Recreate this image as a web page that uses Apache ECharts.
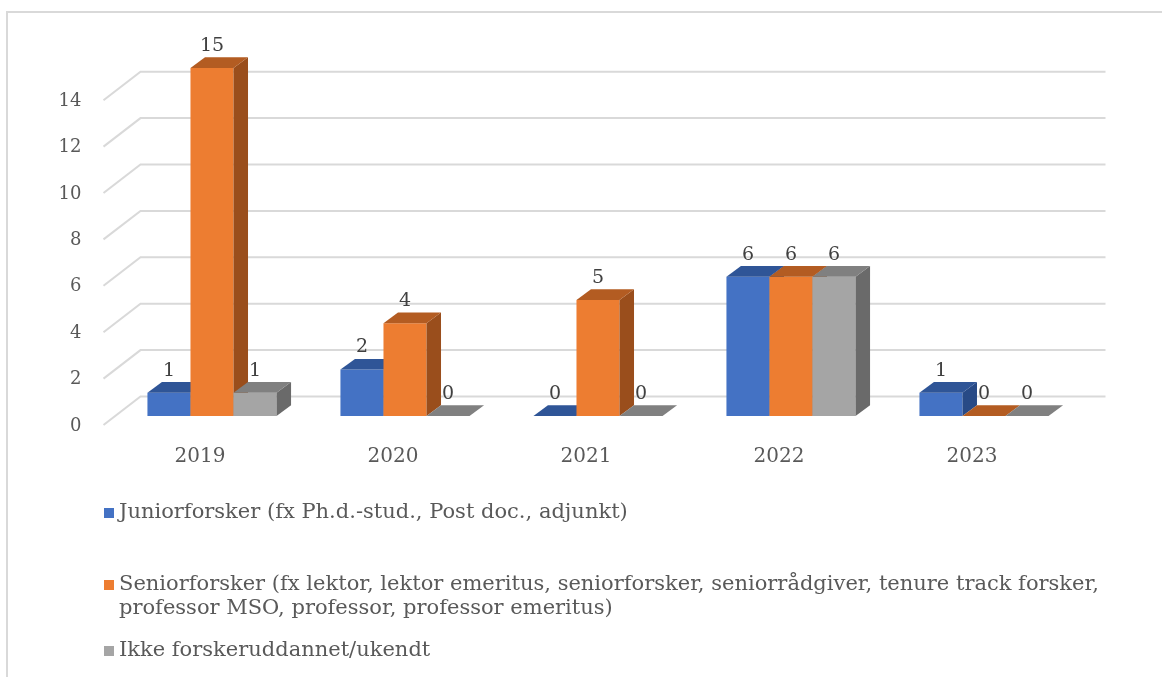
<!DOCTYPE html>
<html>
<head>
<meta charset="utf-8">
<script src="https://cdn.jsdelivr.net/npm/echarts@6/dist/echarts.min.js"></script>
<style>
  html, body { margin: 0; padding: 0; background: #fff; }
  #chart { width: 1162px; height: 677px; }
</style>
</head>
<body>
<div id="chart"></div>
<script>
const years = ['2019', '2020', '2021', '2022', '2023'];
const names = [
  'Juniorforsker (fx Ph.d.-stud., Post doc., adjunkt)',
  'Seniorforsker (fx lektor, lektor emeritus, seniorforsker, seniorrådgiver, tenure track forsker, professor MSO, professor, professor emeritus)',
  'Ikke forskeruddannet/ukendt'
];
const junior = [1, 2, 0, 6, 1];
const senior = [15, 4, 5, 6, 0];
const ukendt = [1, 0, 0, 6, 0];
const yTicks = [0, 2, 4, 6, 8, 10, 12, 14];

const colors = ['#4472C4', '#ED7D31', '#A5A5A5'];
const topColors = ['#2F5597', '#B35C22', '#808080'];
const sideColors = ['#284A86', '#9A4E1C', '#6A6A6A'];

const PX = 23.2;          // px per unit
const FLOOR = [37, -28.5]; // floor depth (front -> back wall)
const BAR = [14.5, -10.7]; // bar depth

const numFont = 'DejaVu Serif';
const chart = echarts.init(document.getElementById('chart'));

function barRender(k) {
  return function (params, api) {
    const cat = api.value(0), val = api.value(1);
    const top = api.coord([cat, val]);
    const base = api.coord([cat, 0]);
    const band = api.size([1, 0])[0];
    const w = band * 0.223;
    const x0 = top[0] + (k - 1.5) * w, x1 = x0 + w;
    const yt = top[1], yb = base[1];
    const [dx, dy] = BAR;
    return {
      type: 'group',
      children: [
        { type: 'rect', shape: { x: x0, y: yt, width: w, height: yb - yt },
          style: { fill: colors[k] } },
        { type: 'polygon', shape: { points: [[x1, yt], [x1 + dx, yt + dy], [x1 + dx, yb + dy], [x1, yb]] },
          style: { fill: sideColors[k] } },
        { type: 'polygon', shape: { points: [[x0, yt], [x1, yt], [x1 + dx, yt + dy], [x0 + dx, yt + dy]] },
          style: { fill: topColors[k] } },
        { type: 'text', x: x0 + w / 2, y: yt + dy - 2,
          style: { text: String(val), fill: '#404040', font: '19px ' + numFont,
                   align: 'center', verticalAlign: 'bottom' } }
      ]
    };
  };
}

function barSeries(k, data) {
  return {
    type: 'custom',
    name: names[k],
    xAxisIndex: 0, yAxisIndex: 0,
    clip: false,
    itemStyle: { color: colors[k] },
    data: data.map((v, i) => [i, v]),
    renderItem: barRender(k)
  };
}

// the long name wraps after "forsker,"; a blank first line keeps the icon on the first text line
function wrapName(n) {
  if (n.indexOf('forsker, professor MSO') < 0) return n;
  return '\n' + n.replace('forsker, professor MSO', 'forsker,\nprofessor MSO');
}

const option = {
  animation: false,
  backgroundColor: '#fff',
  graphic: [{
    type: 'rect', shape: { x: 7, y: 12, width: 1200, height: 720 },
    style: { fill: null, stroke: '#D9D9D9', lineWidth: 2 }, silent: true
  }],
  grid: [
    { left: 115.5, width: 965, top: 416 - 15 * PX, height: 15 * PX },
    { left: 103.5, width: 965, top: 426 - 15 * PX, height: 15 * PX }
  ],
  xAxis: [
    { gridIndex: 0, type: 'category', data: years, show: false },
    { gridIndex: 1, type: 'category', data: years,
      axisLine: { show: false }, axisTick: { show: false },
      axisLabel: { margin: 21, color: '#595959', fontFamily: numFont, fontSize: 20 } }
  ],
  yAxis: [
    { gridIndex: 0, type: 'value', min: 0, max: 15, show: false },
    { gridIndex: 1, type: 'value', min: 0, max: 15, interval: 2,
      axisLine: { show: false }, axisTick: { show: false }, splitLine: { show: false },
      axisLabel: { margin: 22, color: '#595959', fontFamily: numFont, fontSize: 18,
                   customValues: yTicks } }
  ],
  legend: [0, 1, 2].map(k => ({
    data: [{ name: names[k], itemStyle: { color: colors[k] } }],
    left: 99,
    top: [496, 544, 634][k],
    orient: 'vertical',
    icon: 'rect',
    itemWidth: 10, itemHeight: 10,
    selectedMode: false,
    formatter: wrapName,
    textStyle: { fontFamily: 'DejaVu Serif', fontSize: 21, color: '#595959', lineHeight: 24 }
  })),
  series: [
    {
      type: 'custom',
      xAxisIndex: 1, yAxisIndex: 1,
      silent: true, clip: false, z: 0,
      data: yTicks.map(v => [0, v]),
      renderItem: function (params, api) {
        const cs = params.coordSys;
        const y = api.coord([0, api.value(1)])[1] - 1;
        const xf = cs.x, xb = cs.x + FLOOR[0], yb = y + FLOOR[1];
        return {
          type: 'polyline',
          shape: { points: [[xf, y], [xb, yb], [cs.x + cs.width + FLOOR[0], yb]] },
          style: { stroke: '#D9D9D9', lineWidth: 2, fill: null }
        };
      }
    },
    barSeries(0, junior),
    barSeries(1, senior),
    barSeries(2, ukendt)
  ]
};
chart.setOption(option);
</script>
</body>
</html>
